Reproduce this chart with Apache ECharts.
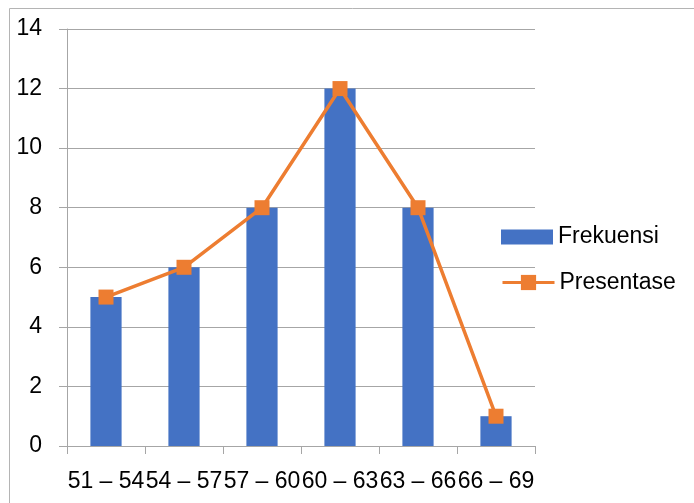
<!DOCTYPE html>
<html>
<head>
<meta charset="utf-8">
<script src="https://cdn.jsdelivr.net/npm/echarts@6/dist/echarts.min.js"></script>
<style>
  html, body { margin: 0; padding: 0; background: #fff; }
  #chart { width: 694px; height: 503px; }
</style>
</head>
<body>
<div id="chart"></div>
<script>
// Class intervals and their counts
const categories = ['51 – 54', '54 – 57', '57 – 60', '60 – 63', '63 – 66', '66 – 69'];
const frekuensi = [5, 6, 8, 12, 8, 1];
const presentase = [5, 6, 8, 12, 8, 1];
const yTicks = { min: 0, max: 14, interval: 2 };

const FONT = 'Liberation Sans';
const BLUE = '#4472C4';
const ORANGE = '#ED7D31';
const GRID = '#a6a6a6';

const chart = echarts.init(document.getElementById('chart'), null, { renderer: 'canvas' });

chart.setOption({
  animation: false,
  backgroundColor: '#ffffff',
  textStyle: { fontFamily: FONT, color: '#000' },
  graphic: [{
    type: 'rect',
    shape: { x: 9.5, y: 8.5, width: 800, height: 600 },
    style: { fill: 'none', stroke: '#b4b4b4', lineWidth: 1 },
    silent: true
  }],
  grid: { left: 67, right: 159, top: 29, bottom: 57 },
  legend: [
    {
      data: [{ name: 'Frekuensi', icon: 'rect' }],
      left: 501, top: 225.5, padding: 0,
      itemWidth: 52, itemHeight: 15,
      textStyle: { fontFamily: FONT, fontSize: 23, color: '#000' }
    },
    {
      data: ['Presentase'],
      left: 501, top: 271, padding: 0,
      itemWidth: 52, itemHeight: 19,
      lineStyle: { width: 3 },
      textStyle: { fontFamily: FONT, fontSize: 23, color: '#000' }
    }
  ],
  xAxis: {
    type: 'category',
    data: categories,
    boundaryGap: true,
    axisLine: { show: true, lineStyle: { color: GRID, width: 1 } },
    axisTick: { show: true, length: 8, lineStyle: { color: GRID } },
    axisLabel: {
      interval: 0, margin: 24,
      fontFamily: FONT, fontSize: 23, color: '#000'
    },
    splitLine: { show: false }
  },
  yAxis: {
    type: 'value',
    min: yTicks.min, max: yTicks.max, interval: yTicks.interval,
    axisLine: { show: true, lineStyle: { color: GRID, width: 1 } },
    axisTick: { show: true, length: 8, lineStyle: { color: GRID } },
    axisLabel: { margin: 25, fontFamily: FONT, fontSize: 23, color: '#000' },
    splitLine: { show: true, lineStyle: { color: GRID, width: 1 } }
  },
  series: [
    {
      name: 'Frekuensi',
      type: 'bar',
      data: frekuensi,
      barWidth: '40%',
      itemStyle: { color: BLUE },
      z: 2
    },
    {
      name: 'Presentase',
      type: 'line',
      data: presentase,
      symbol: 'rect',
      symbolSize: 15,
      lineStyle: { color: ORANGE, width: 3.5 },
      itemStyle: { color: ORANGE },
      z: 3
    }
  ]
});
</script>
</body>
</html>
